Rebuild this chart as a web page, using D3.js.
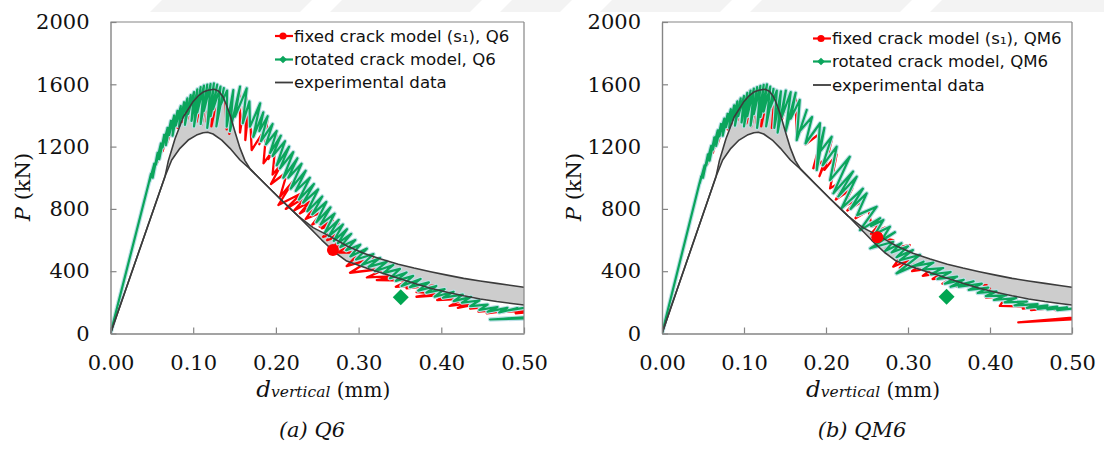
<!DOCTYPE html>
<html>
<head>
<meta charset="utf-8">
<script src="https://cdn.jsdelivr.net/npm/d3@7"></script>
<style>
  body { margin: 0; background: #fff; }
  svg { display: block; }
</style>
</head>
<body>
<svg id="chart" width="1104" height="449"></svg>
<script>
// Axis ticks shared by both panels
const xTicks = [0, 0.1, 0.2, 0.3, 0.4, 0.5];
const yTicks = [0, 400, 800, 1200, 1600, 2000];

// Experimental envelope (d in mm, P in kN): upper and lower bounding curves
const expUpper = [[0,0],[0.066,1010],[0.070,1110],[0.074,1180],[0.078,1250],[0.083,1320],[0.088,1390],[0.094,1440],[0.100,1490],[0.106,1525],[0.112,1550],[0.118,1562],[0.1255,1568],[0.131,1555],[0.136,1520],[0.140,1470],[0.1445,1405],[0.1505,1295],[0.1566,1190],[0.1626,1110],[0.169,1055],[0.187,960],[0.205,865],[0.227,754],[0.245,680],[0.266,622],[0.286,562],[0.306,515],[0.327,478],[0.348,445],[0.367,420],[0.387,397],[0.407,375],[0.427,354],[0.447,337],[0.467,322],[0.485,308],[0.5,297]];
const expLower = [[0,0],[0.066,1010],[0.074,1114],[0.084,1189],[0.094,1242],[0.104,1274],[0.112,1289],[0.1175,1292],[0.124,1281],[0.1345,1242],[0.1445,1189],[0.1566,1114],[0.169,1055],[0.187,960],[0.205,865],[0.227,754],[0.2555,600],[0.2715,520],[0.2856,465],[0.31,419],[0.33,385],[0.348,355],[0.367,322],[0.387,290],[0.407,265],[0.427,242],[0.447,222],[0.467,205],[0.485,193],[0.5,183]];

// Q6: fixed crack model (s1)
const fixQ6 = [[0,0],[0.046,960],[0.053,1085],[0.051,1020],[0.060,1190],[0.057,1100],[0.066,1260],[0.063,1170],[0.072,1330],[0.069,1230],[0.078,1385],[0.075,1280],[0.084,1440],[0.081,1320],[0.090,1480],[0.087,1360],[0.096,1515],[0.093,1380],[0.102,1545],[0.099,1370],[0.108,1575],[0.104,1360],[0.114,1590],[0.110,1340],[0.120,1598],[0.116,1360],[0.126,1600],[0.122,1330],[0.132,1585],[0.128,1350],[0.138,1570],[0.1405,1310],[0.1485,1563],[0.1437,1282],[0.1566,1585],[0.1566,1290],[0.1647,1574],[0.163,1242],[0.168,1490],[0.1707,1178],[0.185,1296],[0.180,1215],[0.190,1395],[0.185,1093],[0.197,1178],[0.191,1120],[0.201,1300],[0.196,1020],[0.207,1090],[0.194,960],[0.214,1040],[0.205,878],[0.221,980],[0.203,825],[0.231,900],[0.212,800],[0.237,880],[0.222,790],[0.241,846],[0.229,771],[0.249,836],[0.236,735],[0.256,780],[0.244,700],[0.262,745],[0.253,686],[0.269,729],[0.2555,675],[0.2755,707],[0.257,621],[0.2775,654],[0.262,600],[0.283,640],[0.268,545],[0.292,590],[0.276,520],[0.3017,520],[0.2856,433],[0.3178,483],[0.2896,390],[0.334,419],[0.310,360],[0.346,369],[0.322,343],[0.360,340],[0.345,300],[0.378,311],[0.358,290],[0.394,311],[0.370,265],[0.394,258],[0.370,236],[0.410,250],[0.395,215],[0.4266,222],[0.410,177],[0.4347,194],[0.420,165],[0.445,190],[0.435,160],[0.455,170],[0.445,140],[0.471,151],[0.455,130],[0.485,150],[0.473,138],[0.500,145],[0.490,130],[0.510,140]];

// Q6: rotated crack model
const rotQ6 = [[0,0],[0.046,960],[0.049,1025],[0.047,975],[0.053,1090],[0.051,1000],[0.057,1160],[0.055,1085],[0.061,1220],[0.059,1120],[0.065,1275],[0.063,1195],[0.069,1320],[0.067,1210],[0.073,1365],[0.071,1275],[0.077,1400],[0.075,1270],[0.081,1430],[0.079,1335],[0.085,1460],[0.083,1330],[0.089,1485],[0.087,1385],[0.093,1510],[0.090,1340],[0.097,1530],[0.094,1410],[0.101,1550],[0.098,1365],[0.105,1568],[0.101,1330],[0.109,1582],[0.105,1420],[0.113,1592],[0.109,1345],[0.117,1598],[0.113,1430],[0.121,1602],[0.117,1320],[0.125,1606],[0.121,1395],[0.129,1598],[0.124,1440],[0.133,1585],[0.128,1330],[0.137,1575],[0.133,1465],[0.141,1560],[0.1405,1328],[0.1485,1563],[0.1445,1300],[0.1566,1585],[0.1505,1392],[0.1647,1574],[0.160,1350],[0.168,1490],[0.1687,1328],[0.181,1478],[0.1727,1263],[0.1848,1420],[0.180,1300],[0.190,1395],[0.182,1235],[0.196,1345],[0.188,1215],[0.201,1300],[0.193,1160],[0.206,1270],[0.196,1140],[0.211,1235],[0.201,1080],[0.216,1200],[0.205,1060],[0.221,1165],[0.209,1000],[0.226,1125],[0.215,1000],[0.231,1090],[0.218,930],[0.236,1045],[0.224,915],[0.241,1000],[0.228,860],[0.246,960],[0.233,840],[0.251,925],[0.238,785],[0.256,880],[0.244,765],[0.261,845],[0.249,715],[0.266,810],[0.254,700],[0.271,770],[0.259,645],[0.276,730],[0.264,625],[0.281,700],[0.270,595],[0.286,670],[0.275,580],[0.291,640],[0.278,555],[0.296,600],[0.285,535],[0.302,570],[0.290,495],[0.310,545],[0.297,475],[0.318,510],[0.304,440],[0.326,485],[0.312,428],[0.334,460],[0.320,400],[0.342,440],[0.330,388],[0.350,415],[0.338,355],[0.358,392],[0.345,338],[0.366,370],[0.352,305],[0.375,350],[0.362,298],[0.385,328],[0.372,275],[0.394,305],[0.382,262],[0.404,285],[0.392,236],[0.415,268],[0.402,230],[0.426,250],[0.415,208],[0.436,235],[0.425,198],[0.446,212],[0.435,176],[0.456,185],[0.446,152],[0.468,170],[0.456,140],[0.480,165],[0.470,135],[0.492,163],[0.480,148],[0.505,168],[0.540,116],[0.459,90],[0.520,100]];

// QM6: fixed crack model (s1)
const fixQM6 = [[0,0],[0.045,950],[0.052,1075],[0.050,1010],[0.059,1180],[0.056,1090],[0.065,1250],[0.062,1160],[0.071,1320],[0.068,1220],[0.077,1375],[0.074,1270],[0.083,1430],[0.080,1310],[0.089,1470],[0.086,1350],[0.095,1505],[0.092,1370],[0.101,1530],[0.098,1360],[0.107,1560],[0.103,1350],[0.113,1575],[0.109,1330],[0.119,1588],[0.115,1350],[0.125,1595],[0.121,1330],[0.131,1585],[0.127,1340],[0.138,1565],[0.134,1320],[0.145,1555],[0.141,1300],[0.151,1560],[0.146,1370],[0.157,1550],[0.151,1305],[0.163,1545],[0.1643,1242],[0.1765,1435],[0.168,1290],[0.183,1390],[0.175,1215],[0.1967,1300],[0.1845,1061],[0.2008,1125],[0.192,1010],[0.207,1242],[0.198,1050],[0.213,1150],[0.205,932],[0.219,975],[0.208,900],[0.226,1000],[0.212,860],[0.232,930],[0.221,814],[0.2374,857],[0.226,790],[0.245,850],[0.236,740],[0.252,790],[0.2557,686],[0.266,707],[0.255,640],[0.272,680],[0.2626,618],[0.282,600],[0.272,540],[0.302,568],[0.282,429],[0.300,470],[0.290,420],[0.318,455],[0.305,400],[0.330,420],[0.318,370],[0.342,390],[0.330,350],[0.355,360],[0.342,320],[0.365,335],[0.359,300],[0.396,311],[0.375,280],[0.400,290],[0.385,255],[0.410,262],[0.395,230],[0.420,240],[0.412,177],[0.453,172],[0.440,160],[0.460,170],[0.450,150],[0.470,160],[0.480,150],[0.505,155],[0.560,130],[0.4345,72],[0.520,96]];

// QM6: rotated crack model
const rotQM6 = [[0,0],[0.045,950],[0.048,1010],[0.046,965],[0.052,1080],[0.050,1000],[0.056,1150],[0.054,1080],[0.060,1205],[0.058,1110],[0.064,1260],[0.062,1180],[0.068,1305],[0.066,1205],[0.072,1345],[0.070,1265],[0.076,1380],[0.074,1270],[0.080,1410],[0.078,1325],[0.084,1440],[0.082,1320],[0.088,1465],[0.086,1370],[0.092,1490],[0.089,1335],[0.096,1510],[0.093,1395],[0.100,1525],[0.097,1355],[0.104,1545],[0.100,1330],[0.108,1560],[0.104,1395],[0.112,1572],[0.108,1335],[0.116,1582],[0.112,1410],[0.120,1590],[0.116,1320],[0.124,1597],[0.120,1390],[0.128,1600],[0.124,1425],[0.132,1585],[0.127,1330],[0.136,1570],[0.132,1450],[0.140,1560],[0.137,1320],[0.145,1555],[0.141,1290],[0.151,1560],[0.146,1390],[0.157,1550],[0.151,1300],[0.163,1545],[0.157,1380],[0.168,1500],[0.1643,1242],[0.1765,1435],[0.168,1300],[0.183,1390],[0.175,1220],[0.1927,1350],[0.1887,1050],[0.198,1320],[0.190,1150],[0.207,1263],[0.196,1080],[0.213,1200],[0.205,985],[0.229,1135],[0.209,900],[0.233,1040],[0.215,880],[0.2374,1007],[0.219,804],[0.245,930],[0.230,800],[0.2496,900],[0.238,760],[0.2618,814],[0.2415,664],[0.266,740],[0.255,690],[0.270,729],[0.260,640],[0.278,686],[0.268,600],[0.284,650],[0.254,547],[0.282,589],[0.272,530],[0.292,580],[0.280,520],[0.300,560],[0.286,490],[0.306,536],[0.290,470],[0.3146,505],[0.286,386],[0.319,461],[0.305,430],[0.331,455],[0.318,410],[0.343,420],[0.328,380],[0.352,395],[0.336,350],[0.360,365],[0.345,320],[0.368,345],[0.352,300],[0.380,335],[0.362,300],[0.390,320],[0.374,280],[0.398,295],[0.385,260],[0.408,270],[0.395,240],[0.420,245],[0.405,215],[0.432,228],[0.418,200],[0.445,205],[0.430,180],[0.458,188],[0.445,165],[0.470,180],[0.458,158],[0.482,172],[0.470,155],[0.494,168],[0.482,150],[0.505,162]];

// Highlighted states on each model curve
const fixMarkQ6 = [0.269, 536];
const rotMarkQ6 = [0.351, 232];
const fixMarkQM6 = [0.2626, 618];
const rotMarkQM6 = [0.347, 236];

const legendQ6 = ["fixed crack model (s\u2081), Q6", "rotated crack model, Q6", "experimental data"];
const legendQM6 = ["fixed crack model (s\u2081), QM6", "rotated crack model, QM6", "experimental data"];

const RED = "#ff0000", GREEN = "#0ba55c", HALO = "#bde0e8", EXP = "#3c3c3c", AXIS = "#858585";
const TOP = 22, BOTTOM = 333.5;

const svg = d3.select("#chart");

// faint letterhead stripes along the top edge of the page
const stripes = [[150, 300], [330, 470], [500, 560], [600, 720], [750, 900], [930, 1104]];
svg.append("g").selectAll("path").data(stripes).join("path")
  .attr("d", d => `M${d[0] + 12},0H${d[1] + 12}L${d[1]},12H${d[0]}Z`)
  .attr("fill", "#f3f3f3");

const panels = [
  { key: "q6", left: 110.5, right: 524, fix: fixQ6, rot: rotQ6, fixMark: fixMarkQ6, rotMark: rotMarkQ6,
    legend: legendQ6, legendX: 294, legendY: [36, 59.5, 82.5], caption: "(a) Q6", captionX: 312 },
  { key: "qm6", left: 662, right: 1072, fix: fixQM6, rot: rotQM6, fixMark: fixMarkQM6, rotMark: rotMarkQM6,
    legend: legendQM6, legendX: 832, legendY: [38.5, 61.5, 85], caption: "(b) QM6", captionX: 862 }
];

panels.forEach(p => {
  const x = d3.scaleLinear().domain([0, 0.5]).range([p.left, p.right]);
  const y = d3.scaleLinear().domain([0, 2000]).range([BOTTOM, TOP]);
  const line = d3.line().x(d => x(d[0])).y(d => y(d[1]));
  const g = svg.append("g");

  svg.append("clipPath").attr("id", "clip-" + p.key)
    .append("rect").attr("x", p.left).attr("y", TOP)
    .attr("width", p.right - p.left).attr("height", BOTTOM - TOP);

  const plot = g.append("g").attr("clip-path", `url(#clip-${p.key})`);

  // shaded band between the experimental curves
  plot.append("path")
    .attr("d", line(expUpper.concat(expLower.slice().reverse())))
    .attr("fill", "#cdcdcd").attr("stroke", "none");

  // fixed crack model
  plot.append("path").attr("d", line(p.fix))
    .attr("fill", "none").attr("stroke", RED).attr("stroke-width", 2.3)
    .attr("stroke-linejoin", "round");

  // rotated crack model with pale outline
  plot.append("path").attr("d", line(p.rot))
    .attr("fill", "none").attr("stroke", HALO).attr("stroke-width", 4.4)
    .attr("stroke-linejoin", "round");
  plot.append("path").attr("d", line(p.rot))
    .attr("fill", "none").attr("stroke", GREEN).attr("stroke-width", 2.2)
    .attr("stroke-linejoin", "round");

  // experimental curves
  [expUpper, expLower].forEach(s => {
    plot.append("path").attr("d", line(s))
      .attr("fill", "none").attr("stroke", EXP).attr("stroke-width", 1.6)
      .attr("stroke-linejoin", "round");
  });

  // markers
  g.append("circle").attr("cx", x(p.fixMark[0])).attr("cy", y(p.fixMark[1]))
    .attr("r", 6).attr("fill", RED);
  g.append("path").attr("d", d3.symbol().type(d3.symbolSquare).size(128)())
    .attr("transform", `translate(${x(p.rotMark[0])},${y(p.rotMark[1])}) rotate(45)`)
    .attr("fill", "#00a651");

  // frame (top and right)
  g.append("line").attr("x1", p.left).attr("x2", p.right).attr("y1", TOP).attr("y2", TOP)
    .attr("stroke", AXIS).attr("stroke-width", 1.2);
  g.append("line").attr("x1", p.right).attr("x2", p.right).attr("y1", TOP).attr("y2", BOTTOM)
    .attr("stroke", AXIS).attr("stroke-width", 1.2);

  // axes
  const xAxis = g.append("g").attr("transform", `translate(0,${BOTTOM})`)
    .call(d3.axisBottom(x).tickValues(xTicks).tickFormat(d3.format(".2f"))
      .tickSize(-6).tickSizeOuter(0).tickPadding(22));
  const yAxis = g.append("g").attr("transform", `translate(${p.left},0)`)
    .call(d3.axisLeft(y).tickValues(yTicks).tickFormat(d3.format("d"))
      .tickSize(-6).tickSizeOuter(0).tickPadding(21));
  [xAxis, yAxis].forEach(a => {
    a.select(".domain").attr("stroke", AXIS).attr("stroke-width", 1.4);
    a.selectAll(".tick line").attr("stroke", AXIS).attr("stroke-width", 1.2);
    a.selectAll(".tick text").attr("fill", "#111")
      .style("font-family", "'DejaVu Serif', serif").style("font-size", "21px");
  });

  // legend
  const lg = g.append("g").style("font-family", "'DejaVu Sans', sans-serif").style("font-size", "16.6px");
  const rowsY = p.legendY;
  const lx0 = p.legendX - 19, lx1 = p.legendX - 1, mx = p.legendX - 11;
  lg.append("line").attr("x1", lx0).attr("x2", lx1).attr("y1", rowsY[0]).attr("y2", rowsY[0])
    .attr("stroke", RED).attr("stroke-width", 2.2);
  lg.append("circle").attr("cx", mx).attr("cy", rowsY[0]).attr("r", 3.6).attr("fill", RED);
  lg.append("line").attr("x1", lx0).attr("x2", lx1).attr("y1", rowsY[1]).attr("y2", rowsY[1])
    .attr("stroke", GREEN).attr("stroke-width", 2.2);
  lg.append("path").attr("d", d3.symbol().type(d3.symbolSquare).size(30)())
    .attr("transform", `translate(${mx},${rowsY[1]}) rotate(45)`).attr("fill", GREEN);
  lg.append("line").attr("x1", lx0).attr("x2", lx1).attr("y1", rowsY[2]).attr("y2", rowsY[2])
    .attr("stroke", EXP).attr("stroke-width", 1.8);
  p.legend.forEach((t, i) => {
    lg.append("text").attr("x", p.legendX).attr("y", rowsY[i]).attr("dy", "0.36em")
      .attr("fill", "#111").text(t);
  });

  // axis titles
  const cx = (p.left + p.right) / 2;
  const xt = g.append("text").attr("x", cx + 6).attr("y", 397).attr("text-anchor", "middle")
    .attr("fill", "#111").style("font-family", "'DejaVu Serif', serif");
  xt.append("tspan").style("font-style", "italic").style("font-size", "23px").text("d");
  xt.append("tspan").style("font-style", "italic").style("font-size", "15.5px").text("vertical");
  xt.append("tspan").style("font-size", "20px").text(" (mm)");

  const yt = g.append("text").attr("transform", `translate(${p.left - 81},187) rotate(-90)`)
    .attr("text-anchor", "middle").attr("fill", "#111")
    .style("font-family", "'DejaVu Serif', serif").style("font-size", "21px");
  yt.append("tspan").style("font-style", "italic").text("P");
  yt.append("tspan").text(" (kN)");

  // panel caption
  g.append("text").attr("x", p.captionX).attr("y", 437).attr("text-anchor", "middle")
    .attr("fill", "#111").style("font-family", "'DejaVu Serif', serif")
    .style("font-style", "italic").style("font-size", "21px").text(p.caption);
});
</script>
</body>
</html>
